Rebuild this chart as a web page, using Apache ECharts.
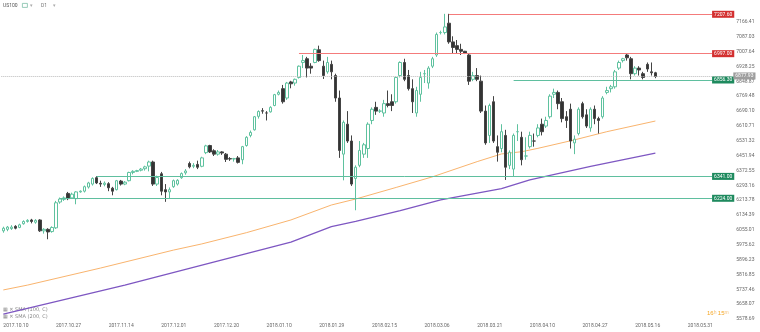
<!DOCTYPE html>
<html><head><meta charset="utf-8">
<script src="https://cdn.jsdelivr.net/npm/echarts@6/dist/echarts.min.js"></script>
<style>html,body{margin:0;padding:0;background:#fff}#c{width:760px;height:332px}</style>
</head><body><div id="c"></div>
<script>
const opens = [6050,6058,6062,6074,6068,6088,6100,6108,6096,6108,6050,6058,6046,6066,6204,6218,6250,6226,6222,6258,6262,6284,6300,6334,6304,6298,6302,6278,6270,6316,6300,6318,6362,6368,6374,6382,6396,6418,6300,6355,6270,6258,6286,6300,6334,6360,6410,6395,6405,6395,6468,6506,6478,6460,6472,6460,6436,6434,6440,6430,6506,6560,6590,6662,6692,6680,6686,6720,6780,6810,6760,6846,6840,6870,6950,6970,6930,6950,7018,6930,6900,6940,6880,6760,6460,6620,6530,6330,6400,6460,6490,6640,6710,6690,6680,6730,6740,6740,6880,6950,6880,6810,6680,6780,6890,6840,6930,6990,7110,7110,7160,7060,7040,7020,7010,6990,6860,6880,6850,6690,6560,6740,6500,6490,6560,6400,6380,6580,6550,6450,6500,6530,6560,6620,6610,6660,6780,6790,6740,6660,6700,6520,6570,6730,6670,6600,6700,6650,6660,6790,6810,6820,6920,6960,6990,6970,6890,6920,6890,6940,6900,6895];
const closes = [6064,6070,6070,6064,6082,6100,6106,6100,6106,6050,6058,6044,6068,6200,6220,6226,6222,6246,6258,6262,6286,6306,6330,6306,6300,6305,6280,6262,6318,6300,6310,6362,6368,6372,6380,6392,6418,6300,6335,6262,6258,6270,6318,6320,6356,6370,6392,6400,6390,6440,6504,6472,6460,6472,6466,6432,6434,6436,6416,6500,6550,6576,6660,6688,6690,6680,6710,6778,6790,6740,6840,6836,6860,6930,6960,6920,6920,7020,6960,6880,6950,6900,6760,6480,6630,6530,6300,6390,6480,6510,6620,6700,6690,6690,6730,6720,6720,6870,6950,6860,6810,6740,6800,6870,6890,6920,6970,7100,7110,7140,7060,7030,7020,7010,7000,6850,6880,6860,6690,6520,6720,6530,6470,6580,6390,6470,6560,6580,6430,6450,6560,6530,6600,6580,6640,6770,6790,6730,6650,6640,6530,6540,6700,6660,6610,6700,6650,6640,6760,6800,6820,6900,6950,6970,6975,6890,6920,6910,6870,6915,6895,6875];
const lows = [6040,6048,6055,6058,6064,6083,6094,6090,6088,6044,6035,6005,6040,6060,6195,6210,6214,6220,6192,6254,6255,6276,6292,6300,6285,6288,6262,6240,6266,6292,6294,6314,6352,6364,6368,6372,6368,6290,6290,6240,6205,6222,6280,6292,6328,6350,6384,6385,6380,6390,6460,6466,6450,6452,6456,6418,6424,6420,6410,6406,6500,6550,6586,6650,6676,6640,6682,6716,6774,6730,6750,6812,6826,6864,6920,6870,6890,6946,6954,6862,6890,6860,6740,6440,6320,6520,6290,6160,6390,6440,6440,6620,6670,6680,6660,6710,6690,6730,6870,6850,6800,6680,6660,6740,6840,6810,6920,6980,7100,7100,7050,7000,7000,6990,6995,6830,6850,6850,6680,6510,6520,6520,6420,6470,6322,6380,6340,6530,6400,6430,6490,6500,6550,6560,6600,6650,6760,6700,6630,6600,6490,6460,6560,6650,6600,6580,6620,6570,6650,6780,6790,6810,6910,6950,6960,6860,6880,6880,6860,6900,6880,6866];
const highs = [6072,6076,6080,6080,6088,6106,6112,6114,6112,6112,6064,6064,6074,6210,6228,6234,6258,6254,6262,6266,6292,6312,6336,6343,6318,6314,6310,6285,6322,6322,6316,6366,6374,6376,6386,6398,6425,6425,6345,6365,6300,6282,6324,6326,6362,6380,6420,6412,6425,6446,6510,6510,6486,6482,6476,6466,6444,6440,6450,6504,6556,6586,6664,6694,6706,6690,6716,6782,6800,6830,6846,6852,6864,6934,6990,6980,6946,7024,7040,6960,6980,6960,6890,6800,6640,6690,6560,6400,6530,6520,6630,6710,6740,6700,6750,6800,6780,6874,6956,6970,6910,6860,6820,6900,6910,6930,6980,7110,7120,7210,7210,7090,7070,7050,7012,7000,6900,6920,6880,6720,6730,6770,6560,6620,6590,6480,6570,6620,6580,6550,6580,6570,6620,6650,6660,6780,6810,6800,6760,6690,6730,6560,6710,6740,6700,6710,6720,6660,6770,6820,6830,6910,6960,6975,7000,6980,6930,6930,6900,6950,6950,6900];
const tickLabels = ['2017.10.10','2017.10.27','2017.11.14','2017.12.01','2017.12.20','2018.01.10','2018.01.29','2018.02.15','2018.03.06','2018.03.21','2018.04.10','2018.04.27','2018.05.16','2018.05.31'];
const yTicks = [7166.41,7087.03,7007.64,6928.25,6848.87,6769.48,6690.10,6610.71,6531.32,6451.94,6372.55,6293.16,6213.78,6134.39,6055.01,5975.62,5896.23,5816.85,5737.46,5658.07,5578.69];
const ma100 = [[0,5734],[6,5760],[24,5851],[42,5947],[49,5980],[60,6040],[71,6108],[81,6188],[87,6220],[97,6282],[106,6339],[117,6420],[123,6461],[128,6473],[132,6491],[141,6536],[149,6580],[161,6637]];
const ma200 = [[0,5605],[30,5760],[50,5872],[71,5990],[81,6072],[87,6100],[98,6158],[108,6215],[116,6248],[123,6276],[130,6322],[145,6395],[161,6466]];
const redLevels = [[110,7207.6,'7207.60'],[73,6997.0,'6997.00']];
const greenLevels = [[126,6856.3,'6856.30'],[23,6341.0,'6341.00'],[14,6224.0,'6224.00']];
const lastPrice = 6877.93;

const N = 180;
const cats = [];
for (let i = 0; i < N; i++) cats.push(String(i));
const candles = opens.map((o, i) => [o, closes[i], lows[i], highs[i]]);
const END = 175;

function lvl(arr, lineColor, tagColor) {
  return arr.map(([s, v, t]) => [
    {coord: [s, v], lineStyle: {color: lineColor, width: 1, type: 'solid', opacity: 1},
     label: {show: true, position: 'end', distance: 0, formatter: t, color: '#fff', backgroundColor: tagColor,
       fontSize: 5, fontFamily: 'Roboto', padding: [1, 2, 1, 2]}},
    {coord: [END, v], lineStyle: {color: lineColor, width: 1, type: 'solid', opacity: 1}}
  ]);
}

const chart = echarts.init(document.getElementById('c'), null, {renderer: 'canvas'});
chart.setOption({
  animation: false,
  backgroundColor: '#fff',
  grid: {left: 1.3, right: 29.7, top: 0, bottom: 12},
  xAxis: {
    type: 'category', data: cats, boundaryGap: true,
    axisLine: {show: false}, axisTick: {show: false}, splitLine: {show: false},
    axisLabel: {
      interval: (idx) => idx % 13 === 0 && idx / 13 < tickLabels.length,
      formatter: (v, idx) => tickLabels[Math.round(Number(v) / 13)] || '',
      align: 'left', fontSize: 5, color: '#666', fontFamily: 'Roboto', margin: 3
    }
  },
  yAxis: {
    type: 'value', position: 'right', min: 5573.3, max: 7284.0, scale: true,
    axisLine: {show: false}, axisTick: {show: false}, splitLine: {show: false},
    axisLabel: {customValues: yTicks, formatter: (v) => v.toFixed(2), fontSize: 5, color: '#666', fontFamily: 'Roboto', margin: 6}
  },
  series: [
    {
      type: 'candlestick', data: candles, barWidth: 3,
      itemStyle: {color: '#ffffff', color0: '#333333', borderColor: '#5fc29f', borderColor0: '#444444', borderWidth: 1},
      markLine: {
        symbol: 'none', silent: true, animation: false,
        emphasis: {disabled: true},
        data: [
          ...lvl(redLevels, '#f47b7b', '#d32f2f'),
          ...lvl(greenLevels, '#5fbf9f', '#1e8a5e'),
          {yAxis: lastPrice, lineStyle: {color: '#bbbbbb', type: 'dotted', width: 1},
           label: {show: true, position: 'end', distance: 3, formatter: lastPrice.toFixed(2), color: '#fff', backgroundColor: '#9e9e9e', fontSize: 5, fontFamily: 'Roboto', padding: [1, 2, 1, 2]}}
        ]
      }
    },
    {type: 'line', data: ma100, showSymbol: false, symbol: 'none', lineStyle: {color: '#f9b46e', width: 1}, z: 1},
    {type: 'line', data: ma200, showSymbol: false, symbol: 'none', lineStyle: {color: '#7e57c2', width: 1.3}, z: 1}
  ],
  graphic: [
    {type: 'text', left: 3, top: 3, style: {text: 'US100', fontSize: 5, fill: '#555', fontFamily: 'Roboto'}},
    {type: 'rect', left: 22, top: 3, shape: {width: 5, height: 4}, style: {fill: '#fff', stroke: '#7fbfa8', lineWidth: 0.8}},
    {type: 'text', left: 30, top: 3, style: {text: '▾', fontSize: 5, fill: '#aaa', fontFamily: 'DejaVu Sans'}},
    {type: 'text', left: 41, top: 3, style: {text: 'D1', fontSize: 5, fill: '#777', fontFamily: 'Roboto'}},
    {type: 'text', left: 53, top: 3, style: {text: '▾', fontSize: 5, fill: '#aaa', fontFamily: 'DejaVu Sans'}},
    {type: 'text', left: 3, top: 307, style: {text: '▦ ✕ SMA (100, C)', fontSize: 5, fill: '#888', fontFamily: 'DejaVu Sans'}},
    {type: 'text', left: 3, top: 314, style: {text: '▦ ✕ SMA (200, C)', fontSize: 5, fill: '#888', fontFamily: 'DejaVu Sans'}},
    {type: 'text', left: 707, top: 310, style: {rich: {a: {fill: '#f5a623', fontSize: 6}, b: {fill: '#f5c27a', fontSize: 5}}, text: '{a|16}{b|h }{a|15}{b|m}', fontFamily: 'Roboto'}}
  ]
});
</script></body></html>
